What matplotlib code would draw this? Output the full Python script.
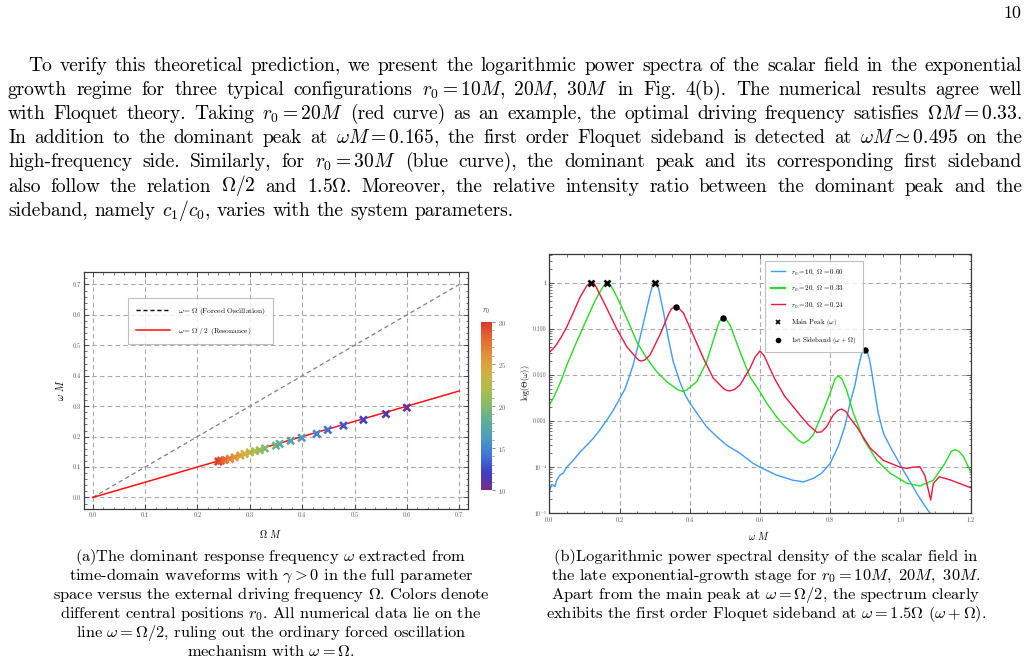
import re
import numpy as np
import matplotlib
matplotlib.use("Agg")
import matplotlib.pyplot as plt
from matplotlib.colors import LinearSegmentedColormap
from matplotlib.lines import Line2D
from matplotlib.ticker import MultipleLocator, LogLocator, NullFormatter, FormatStrFormatter

plt.rcParams["font.family"] = ["cmr10", "DejaVu Serif"]
plt.rcParams["mathtext.fontset"] = "cm"
plt.rcParams["axes.formatter.use_mathtext"] = True

# -----------------------------
# Data, panel (a)
# -----------------------------
drive_freq = [0.240, 0.245, 0.252, 0.262, 0.271, 0.282, 0.290, 0.300, 0.310, 0.319, 0.329,
              0.350, 0.357, 0.378, 0.399, 0.428, 0.449, 0.479, 0.517, 0.560, 0.600]
resp_freq = [0.118, 0.121, 0.123, 0.127, 0.132, 0.138, 0.143, 0.148, 0.152, 0.155, 0.161,
             0.170, 0.176, 0.186, 0.196, 0.209, 0.222, 0.236, 0.255, 0.274, 0.295]
r0_vals = [30, 29, 28, 27, 26, 25, 24, 23, 22, 21, 20,
           19, 18, 17, 16, 15, 14, 13, 12, 11, 10]
ref_x = [0.0, 0.7]

# -----------------------------
# Data, panel (b)
# -----------------------------
w_r10 = [0.0, 0.006, 0.011, 0.016, 0.021, 0.030, 0.040, 0.050, 0.068, 0.087, 0.107, 0.125,
         0.144, 0.164, 0.182, 0.201, 0.216, 0.239, 0.258, 0.278, 0.287, 0.295, 0.300, 0.305,
         0.311, 0.325, 0.339, 0.353, 0.372, 0.387, 0.401, 0.420, 0.448, 0.477, 0.505, 0.543,
         0.581, 0.600, 0.648, 0.695, 0.724, 0.752, 0.776, 0.800, 0.823, 0.842, 0.857, 0.871,
         0.880, 0.890, 0.8975, 0.905, 0.912, 0.9185, 0.928, 0.937, 0.952, 0.971, 0.990, 1.008,
         1.028, 1.047, 1.066, 1.082, 1.095]
p_r10 = [2.9e-5, 4.2e-5, 4.1e-5, 3.8e-5, 5.2e-5, 6.7e-5, 7.5e-5, 1.0e-4, 1.4e-4, 2.1e-4, 3.0e-4, 4.2e-4,
         6.4e-4, 1.05e-3, 1.7e-3, 3.1e-3, 5.0e-3, 0.0164, 0.062, 0.28, 0.55, 0.92, 1.0, 0.93,
         0.76, 0.235, 0.062, 0.0194, 0.0071, 3.7e-3, 2.4e-3, 1.5e-3, 7.5e-4, 4.6e-4, 3.0e-4, 2.0e-4,
         1.2e-4, 1.0e-4, 6.7e-5, 5.2e-5, 4.8e-5, 5.7e-5, 7.4e-5, 1.2e-4, 2.8e-4, 7.6e-4, 2.5e-3, 6.0e-3,
         0.014, 0.029, 0.035, 0.033, 0.022, 0.0117, 4.0e-3, 1.5e-3, 5.4e-4, 2.8e-4, 1.55e-4, 8.7e-5,
         4.8e-5, 2.7e-5, 1.6e-5, 1.07e-5, 8.5e-6]

w_r20 = [0.0, 0.010, 0.021, 0.035, 0.050, 0.078, 0.1065, 0.130, 0.149, 0.157, 0.165, 0.173,
         0.182, 0.201, 0.225, 0.249, 0.2775, 0.306, 0.3345, 0.3675, 0.380, 0.391, 0.420, 0.448,
         0.472, 0.484, 0.494, 0.505, 0.515, 0.543, 0.572, 0.600, 0.620, 0.645, 0.667, 0.695,
         0.710, 0.724, 0.738, 0.752, 0.781, 0.805, 0.814, 0.823, 0.833, 0.847, 0.866, 0.894,
         0.933, 0.971, 1.018, 1.056, 1.094, 1.127, 1.145, 1.156, 1.167, 1.180, 1.200]
p_r20 = [2.2e-3, 3.0e-3, 4.5e-3, 8.0e-3, 0.0164, 0.052, 0.16, 0.40, 0.72, 0.90, 1.0, 0.90,
         0.70, 0.36, 0.143, 0.052, 0.023, 0.0117, 0.0071, 0.0047, 0.0044, 0.0047, 0.0071, 0.019,
         0.073, 0.14, 0.174, 0.155, 0.12, 0.032, 0.009, 4.3e-3, 2.4e-3, 1.3e-3, 8.2e-4, 5.0e-4,
         3.8e-4, 3.3e-4, 3.8e-4, 5.0e-4, 1.7e-3, 5.1e-3, 8.2e-3, 9.5e-3, 8.3e-3, 4.7e-3, 1.5e-3, 4.2e-4,
         1.4e-4, 7.4e-5, 4.5e-5, 3.9e-5, 5.2e-5, 1.2e-4, 2.2e-4, 2.4e-4, 2.2e-4, 1.7e-4, 8.0e-5]

w_r30 = [0.0, 0.010, 0.021, 0.035, 0.050, 0.068, 0.0875, 0.1065, 0.114, 0.121, 0.128, 0.135,
         0.1635, 0.192, 0.2205, 0.249, 0.256, 0.263, 0.272, 0.287, 0.315, 0.339, 0.348, 0.358,
         0.368, 0.382, 0.410, 0.439, 0.467, 0.496, 0.505, 0.515, 0.527, 0.543, 0.572, 0.586,
         0.600, 0.612, 0.628, 0.643, 0.670, 0.714, 0.740, 0.762, 0.775, 0.790, 0.809, 0.822,
         0.833, 0.845, 0.855, 0.876, 0.914, 0.952, 0.999, 1.018, 1.037, 1.056, 1.070, 1.080,
         1.0866, 1.094, 1.111, 1.142, 1.180, 1.200]
p_r30 = [0.031, 0.036, 0.046, 0.068, 0.11, 0.22, 0.48, 0.85, 0.95, 1.0, 0.95, 0.76,
         0.28, 0.10, 0.041, 0.023, 0.0205, 0.020, 0.021, 0.027, 0.073, 0.20, 0.27, 0.30,
         0.28, 0.22, 0.073, 0.023, 8.5e-3, 5.1e-3, 4.6e-3, 4.5e-3, 4.8e-3, 6.0e-3, 0.014, 0.024,
         0.033, 0.026, 0.014, 8.0e-3, 3.5e-3, 1.35e-3, 8.0e-4, 5.7e-4, 5.8e-4, 7.5e-4, 1.35e-3, 1.7e-3,
         1.82e-3, 1.6e-3, 1.2e-3, 7.5e-4, 2.6e-4, 1.4e-4, 1.0e-4, 9.4e-5, 1.0e-4, 1.02e-4, 6.6e-5, 3.2e-5,
         1.94e-5, 4.4e-5, 6.2e-5, 5.3e-5, 4.1e-5, 3.6e-5]

peak_w = [0.12, 0.165, 0.30]
peak_p = [1.0, 1.0, 1.0]
side_w = [0.36, 0.495, 0.90]
side_p = [0.30, 0.17, 0.035]

yticks_b = [1, 0.1, 0.01, 0.001, 1e-4, 1e-5]
ytick_labels_b = ["1", "0.100", "0.010", "0.001", r"$10^{-4}$", r"$10^{-5}$"]

# -----------------------------
# Page text
# -----------------------------
body_lines = [
    "To verify this theoretical prediction, we present the logarithmic power spectra of the scalar field in the exponential",
    r"growth regime for three typical configurations $r_0 = 10M,\ 20M,\ 30M$ in Fig. 4(b). The numerical results agree well",
    r"with Floquet theory. Taking $r_0 = 20M$ (red curve) as an example, the optimal driving frequency satisfies $\Omega M = 0.33$.",
    r"In addition to the dominant peak at $\omega M = 0.165$, the first order Floquet sideband is detected at $\omega M \simeq 0.495$ on the",
    r"high-frequency side. Similarly, for $r_0 = 30M$ (blue curve), the dominant peak and its corresponding first sideband",
    r"also follow the relation $\Omega/2$ and $1.5\Omega$. Moreover, the relative intensity ratio between the dominant peak and the",
    r"sideband, namely $c_1/c_0$, varies with the system parameters.",
]
caption_a = [
    r"(a)The dominant response frequency $\omega$ extracted from",
    r"time-domain waveforms with $\gamma > 0$ in the full parameter",
    r"space versus the external driving frequency $\Omega$. Colors denote",
    r"different central positions $r_0$. All numerical data lie on the",
    r"line $\omega = \Omega/2$, ruling out the ordinary forced oscillation",
    r"mechanism with $\omega = \Omega$.",
]
caption_b = [
    r"(b)Logarithmic power spectral density of the scalar field in",
    r"the late exponential-growth stage for $r_0 = 10M,\ 20M,\ 30M$.",
    r"Apart from the main peak at $\omega = \Omega/2$, the spectrum clearly",
    r"exhibits the first order Floquet sideband at $\omega = 1.5\Omega$ $(\omega + \Omega)$.",
]

# -----------------------------
# Figure
# -----------------------------
W, H = 1028, 663
fig = plt.figure(figsize=(W / 100, H / 100), dpi=100)
renderer = fig.canvas.get_renderer()


def px(x, y):
    return x / W, 1 - y / H


def justified(line, y_base, x0, x1, size, justify=True):
    words = re.findall(r"(?:\$[^$]*\$|[^\s$])+", line)
    texts = [fig.text(0, 1 - y_base / H, w, fontsize=size, va="baseline") for w in words]
    widths = [t.get_window_extent(renderer).width for t in texts]
    gap = 0.34 * size * 100 / 72
    if justify and len(words) > 1:
        gap = (x1 - x0 - sum(widths)) / (len(words) - 1)
    x = x0
    for t, w in zip(texts, widths):
        t.set_x(x / W)
        x += w + gap


body_size = 14.0
for i, line in enumerate(body_lines):
    x0 = 28 if i == 0 else 8
    justified(line, 71 + 24.1 * i, x0, 1022, body_size, justify=(i < len(body_lines) - 1))

fig.text(*px(1021, 18), "10", fontsize=13, ha="right", va="baseline")

cap_size = 11.8
for i, line in enumerate(caption_a):
    fig.text(*px(271, 561 + 19.0 * i), line, fontsize=cap_size, ha="center", va="baseline")
for i, line in enumerate(caption_b):
    fig.text(*px(766, 561 + 19.0 * i), line, fontsize=cap_size, ha="center", va="baseline")

# common style
grid_kw = dict(color="#a8a8a8", linestyle=(0, (4, 3)), linewidth=0.8)


def frame_style(ax):
    for s in ax.spines.values():
        s.set_linewidth(0.9)
        s.set_color("#3a3a3a")
    ax.tick_params(which="both", direction="in", top=True, right=True,
                   labelsize=4.6, pad=2.5, colors="#3a3a3a", labelcolor="#555555")
    ax.tick_params(which="major", length=3.5, width=0.6)
    ax.tick_params(which="minor", length=1.8, width=0.5)


# -----------------------------
# Panel (a)
# -----------------------------
axa = fig.add_axes([84 / W, 1 - 509 / H, 384 / W, 237 / H])
cmap = LinearSegmentedColormap.from_list(
    "rainbow_m", ["#782B8E", "#3F3FC2", "#3F72D6", "#4D98C2", "#5AAC9C", "#84BA6C",
                  "#ADBD4E", "#D2B03E", "#E3923A", "#E26A32", "#D93A2A"])

axa.plot(ref_x, ref_x, color="#808080", lw=0.9, linestyle=(0, (3.5, 2.5)))
axa.plot(ref_x, [v / 2 for v in ref_x], color="#ff1010", lw=1.1)
sc = axa.scatter(drive_freq, resp_freq, c=r0_vals, cmap=cmap, vmin=10, vmax=30,
                 marker="x", s=26, linewidths=1.9, zorder=3)

axa.set_xlim(-0.0167, 0.7167)
axa.set_ylim(-0.038, 0.741)
axa.xaxis.set_major_locator(MultipleLocator(0.1))
axa.xaxis.set_minor_locator(MultipleLocator(0.02))
axa.yaxis.set_major_locator(MultipleLocator(0.1))
axa.yaxis.set_minor_locator(MultipleLocator(0.02))
axa.xaxis.set_major_formatter(FormatStrFormatter("%.1f"))
axa.yaxis.set_major_formatter(FormatStrFormatter("%.1f"))
axa.grid(True, which="major", **grid_kw)
axa.set_axisbelow(True)
frame_style(axa)

legend_handles = [Line2D([], [], color="black", lw=1.0, linestyle=(0, (3, 2))),
                  Line2D([], [], color="#ff1010", lw=1.1)]
la = axa.legend(legend_handles,
                [r"$\omega = \Omega$ (Forced Oscillation)", r"$\omega = \Omega\;/\;2$ (Resonance)"],
                loc="upper left", bbox_to_anchor=(0.1146, 0.89), borderaxespad=0,
                fontsize=5.4, frameon=True, fancybox=False, edgecolor="#b0b0b0",
                handlelength=4.6, handletextpad=1.0, borderpad=1.0, labelspacing=1.2)
la.get_frame().set_linewidth(0.8)

fig.text(*px(270, 534), r"$\Omega\ M$", fontsize=7.2, ha="center", va="center")
fig.text(*px(60, 390), r"$\omega\ M$", fontsize=7.2, ha="center", va="center", rotation=90)

cax = fig.add_axes([481 / W, 1 - 490 / H, 11 / W, 168 / H])
cb = fig.colorbar(sc, cax=cax)
cb.set_ticks([10, 15, 20, 25, 30])
cb.ax.yaxis.set_minor_locator(MultipleLocator(1))
cb.ax.tick_params(which="both", direction="out", labelsize=4.6, colors="#555555", pad=1.5)
cb.ax.tick_params(which="major", length=2.5, width=0.5)
cb.ax.tick_params(which="minor", length=1.3, width=0.4)
cb.outline.set_visible(False)
fig.text(*px(486, 311), r"$r_0$", fontsize=5.5, ha="center", va="center", color="#333333")

# -----------------------------
# Panel (b)
# -----------------------------
axb = fig.add_axes([549.3 / W, 1 - 513.3 / H, 421.2 / W, 259 / H])
c_blue, c_green, c_red = "#3f9bf5", "#25dc25", "#f0163e"
axb.plot(w_r10, p_r10, color=c_blue, lw=1.0)
axb.plot(w_r20, p_r20, color=c_green, lw=1.0)
axb.plot(w_r30, p_r30, color=c_red, lw=1.0)
axb.plot(peak_w, peak_p, linestyle="none", marker="x", color="black", ms=5, mew=1.9, zorder=4)
axb.plot(side_w, side_p, linestyle="none", marker="o", color="black", ms=3.6, zorder=4)

axb.set_yscale("log")
axb.set_xlim(0, 1.2)
axb.set_ylim(1e-5, 4.1)
axb.xaxis.set_major_locator(MultipleLocator(0.2))
axb.xaxis.set_minor_locator(MultipleLocator(0.05))
axb.xaxis.set_major_formatter(FormatStrFormatter("%.1f"))
axb.set_yticks(yticks_b)
axb.set_yticklabels(ytick_labels_b)
axb.yaxis.set_minor_locator(LogLocator(base=10, subs=np.arange(2, 10)))
axb.yaxis.set_minor_formatter(NullFormatter())
axb.grid(True, which="major", **grid_kw)
axb.set_axisbelow(True)
frame_style(axb)
axb.tick_params(axis="y", labelsize=4.2, pad=1.8)

handles_b = [Line2D([], [], color=c_blue, lw=1.0),
             Line2D([], [], color=c_green, lw=1.6),
             Line2D([], [], color=c_red, lw=1.0),
             Line2D([], [], linestyle="none", marker="x", color="black", ms=3.5, mew=1.2),
             Line2D([], [], linestyle="none", marker="o", color="black", ms=3.0)]
labels_b = [r"$r_0 = 10,\ \Omega = 0.60$", r"$r_0 = 20,\ \Omega = 0.33$", r"$r_0 = 30,\ \Omega = 0.24$",
            r"Main Peak $(\omega)$", r"1st Sideband $(\omega + \Omega)$"]
lb = axb.legend(handles_b, labels_b, loc="upper left", bbox_to_anchor=(0.512, 0.974),
                borderaxespad=0, fontsize=5.0, frameon=True, fancybox=False,
                edgecolor="#b0b0b0", handlelength=2.0, handletextpad=0.9,
                borderpad=0.9, labelspacing=1.0)
lb.get_frame().set_linewidth(0.8)

fig.text(*px(759, 536), r"$\omega\ M$", fontsize=7.2, ha="center", va="center")
fig.text(*px(525, 383), r"log$(\Theta(\omega))$", fontsize=6.0, ha="center", va="center", rotation=90)

fig.savefig("out.png", dpi=100)
